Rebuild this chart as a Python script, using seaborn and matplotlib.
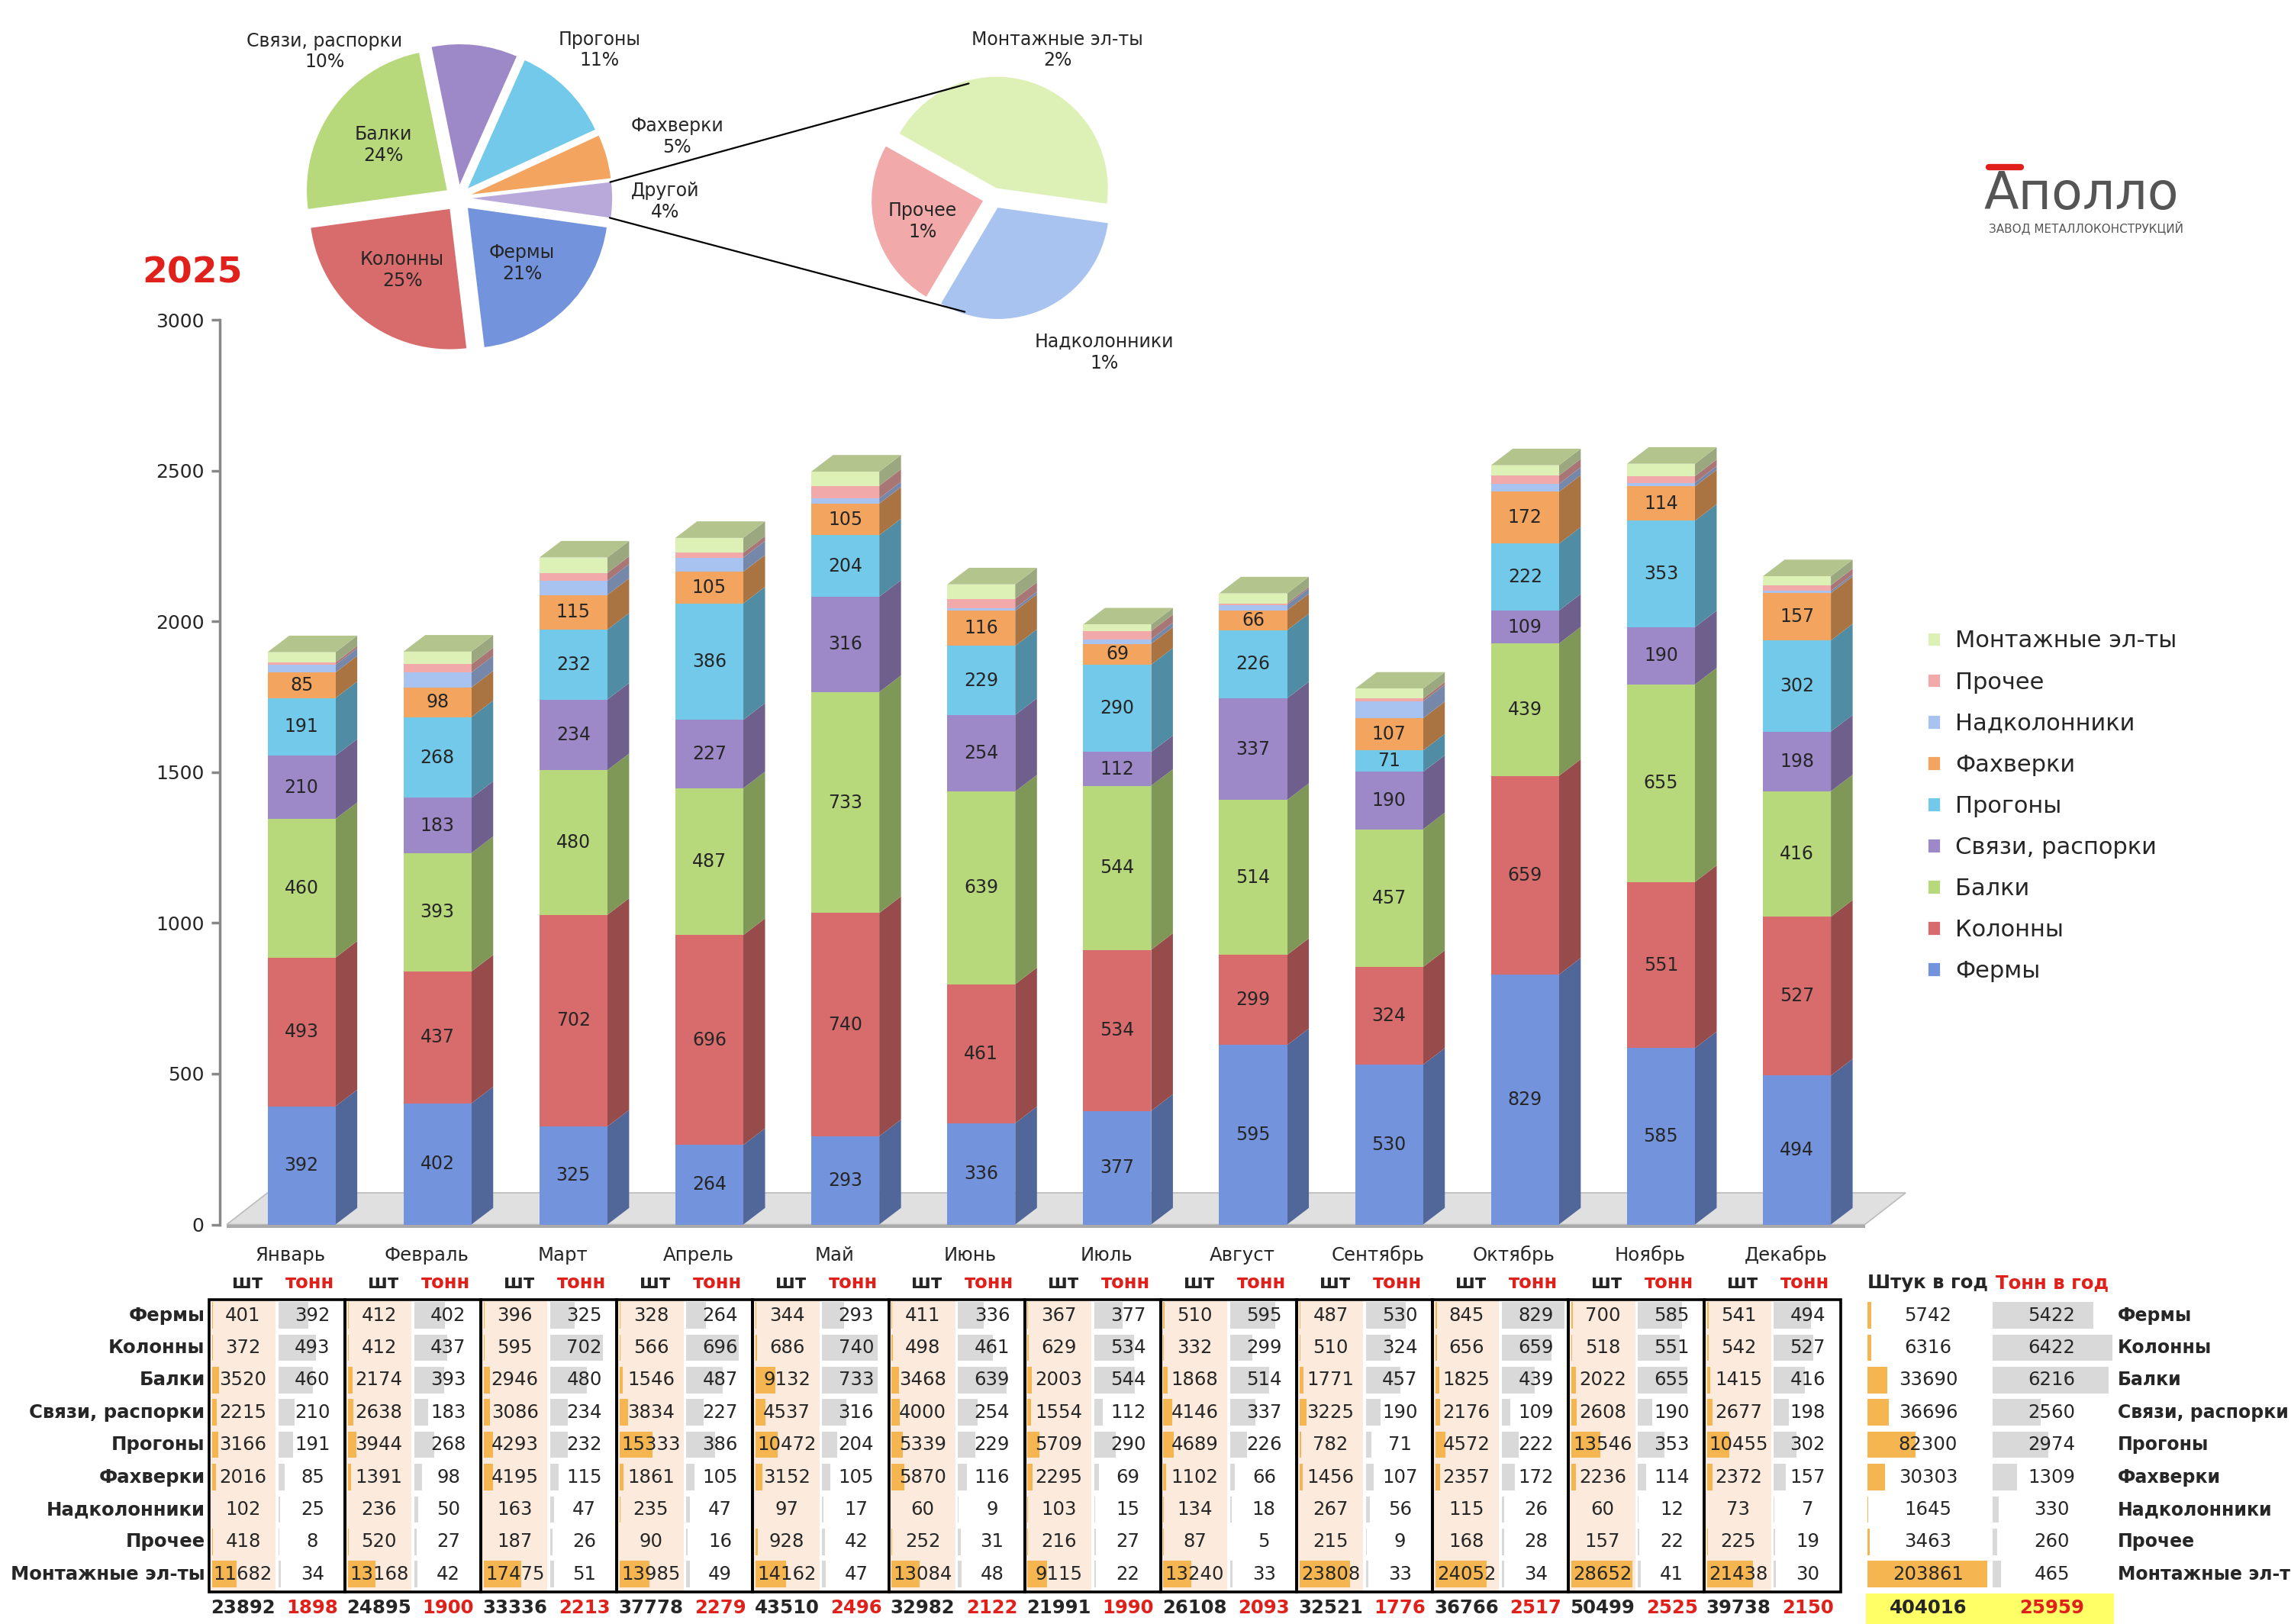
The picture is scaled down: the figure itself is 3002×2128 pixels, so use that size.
import numpy as np
import matplotlib
matplotlib.use("Agg")
import matplotlib.pyplot as plt
import seaborn as sns
from matplotlib.patches import Polygon, Rectangle, ConnectionPatch
from matplotlib.lines import Line2D

months = ["Январь","Февраль","Март","Апрель","Май","Июнь","Июль","Август","Сентябрь","Октябрь","Ноябрь","Декабрь"]
series = ["Фермы","Колонны","Балки","Связи, распорки","Прогоны","Фахверки","Надколонники","Прочее","Монтажные эл-ты"]
tons = {
 "Фермы":          [392,402,325,264,293,336,377,595,530,829,585,494],
 "Колонны":        [493,437,702,696,740,461,534,299,324,659,551,527],
 "Балки":          [460,393,480,487,733,639,544,514,457,439,655,416],
 "Связи, распорки":[210,183,234,227,316,254,112,337,190,109,190,198],
 "Прогоны":        [191,268,232,386,204,229,290,226,71,222,353,302],
 "Фахверки":       [85,98,115,105,105,116,69,66,107,172,114,157],
 "Надколонники":   [25,50,47,47,17,9,15,18,56,26,12,7],
 "Прочее":         [8,27,26,16,42,31,27,5,9,28,22,19],
 "Монтажные эл-ты":[34,42,51,49,47,48,22,33,33,34,41,30],
}
pcs = {
 "Фермы":          [401,412,396,328,344,411,367,510,487,845,700,541],
 "Колонны":        [372,412,595,566,686,498,629,332,510,656,518,542],
 "Балки":          [3520,2174,2946,1546,9132,3468,2003,1868,1771,1825,2022,1415],
 "Связи, распорки":[2215,2638,3086,3834,4537,4000,1554,4146,3225,2176,2608,2677],
 "Прогоны":        [3166,3944,4293,15333,10472,5339,5709,4689,782,4572,13546,10455],
 "Фахверки":       [2016,1391,4195,1861,3152,5870,2295,1102,1456,2357,2236,2372],
 "Надколонники":   [102,236,163,235,97,60,103,134,267,115,60,73],
 "Прочее":         [418,520,187,90,928,252,216,87,215,168,157,225],
 "Монтажные эл-ты":[11682,13168,17475,13985,14162,13084,9115,13240,23808,24052,28652,21438],
}
pcs_month_tot = [23892,24895,33336,37778,43510,32982,21991,26108,32521,36766,50499,39738]
ton_month_tot = [1898,1900,2213,2279,2496,2122,1990,2093,1776,2517,2525,2150]
pcs_year = [5742,6316,33690,36696,82300,30303,1645,3463,203861]
ton_year = [5422,6422,6216,2560,2974,1309,330,260,465]
pcs_total, ton_total = 404016, 25959
pie_labels = ["Другой","Фахверки","Прогоны","Связи, распорки","Балки","Колонны","Фермы"]
pie_vals = [1055,1309,2974,2560,6216,6422,5422]
sub_labels = ["Монтажные эл-ты","Прочее","Надколонники"]
sub_vals = [465,260,330]

colors = {"Фермы":"#7393DC","Колонны":"#D86B6B","Балки":"#B7D97C","Связи, распорки":"#9D88C8",
          "Прогоны":"#72C9EA","Фахверки":"#F3A45E","Надколонники":"#A9C3F1","Прочее":"#F1A9A9",
          "Монтажные эл-ты":"#DDF0B6"}

def darker(c, f=0.7):
    r,g,b = matplotlib.colors.to_rgb(c)
    return (r*f,g*f,b*f)

sns.set_theme(style="white")
plt.rcParams['font.family'] = ['DejaVu Sans']

fig = plt.figure(figsize=(15.01,10.64), dpi=200)
ax = fig.add_axes([0.096,0.246,0.718,0.557])
XL = (-0.6, 11.5)

vals = np.array([tons[s] for s in series])
cum = np.cumsum(vals, axis=0)
W = 0.5
for k in range(len(series)-1, -1, -1):
    sns.barplot(x=months, y=cum[k], color=colors[series[k]], width=W, ax=ax,
                saturation=1, linewidth=0, zorder=3)
dx, dy = 0.16, 55
for i in range(12):
    x1 = i + W/2
    for k in range(len(series)):
        b = cum[k-1][i] if k else 0
        t = cum[k][i]
        ax.add_patch(Polygon([(x1,b),(x1+dx,b+dy),(x1+dx,t+dy),(x1,t)],
                             closed=True, fc=darker(colors[series[k]]), ec='none', zorder=2))
        if k < 6:
            ax.text(i, (b+t)/2, str(vals[k][i]), ha='center', va='center', fontsize=8.5, zorder=5)
    t = cum[-1][i]
    ax.add_patch(Polygon([(i-W/2,t),(i-W/2+dx,t+dy),(x1+dx,t+dy),(x1,t)],
                         closed=True, fc="#B3C48C", ec='none', zorder=2))
ax.add_patch(Polygon([(XL[0]+0.05,0),(XL[0]+0.05+0.3,105),(XL[1]+0.3,105),(XL[1],0)], closed=True,
                     fc="#E0E0E0", ec="#BBBBBB", lw=0.6, zorder=1, clip_on=False))
ax.add_patch(Polygon([(XL[0]+0.05,0),(XL[1],0),(XL[1],-12),(XL[0]+0.05,-12)], closed=True,
                     fc="#AAAAAA", ec='none', zorder=1, clip_on=False))
ax.set_xlim(*XL)
ax.set_ylim(0,3000)
ax.set_yticks(range(0,3001,500))
ax.tick_params(axis='y', labelsize=9, length=4, left=True, color='#888888')
ax.set_xticks([]); ax.set_xlabel(""); ax.set_ylabel("")
for s in ['top','right','bottom']:
    ax.spines[s].set_visible(False)
ax.spines['left'].set_color('#888888')

handles = [Rectangle((0,0),1,1,fc=colors[s]) for s in series[::-1]]
fig.legend(handles, series[::-1], loc='upper left', bbox_to_anchor=(0.832,0.625), frameon=False,
           fontsize=11, labelspacing=0.82, handlelength=0.6, handleheight=0.6, handletextpad=0.6)

fig.text(0.062, 0.832, "2025", color="#E0201B", fontsize=17, fontweight='bold', ha='left', va='center')
fig.text(0.866, 0.880, "Аполло", fontsize=24, color="#555555", ha='left', va='center')
fig.text(0.868, 0.860, "ЗАВОД МЕТАЛЛОКОНСТРУКЦИЙ", fontsize=5.5, color="#555555", ha='left', va='center')
fig.add_artist(Line2D([0.868,0.882],[0.897,0.897], color="#E0201B", lw=3))

# pies
pax = fig.add_axes([0.1135,0.756,0.173,0.244])
pcols = ["#B9A9DA", colors["Фахверки"], colors["Прогоны"], colors["Связи, распорки"], colors["Балки"],
         colors["Колонны"], colors["Фермы"]]
wedges, _ = pax.pie(pie_vals, colors=pcols, startangle=-8, counterclock=True, radius=0.92,
                    explode=[0.09]*7, wedgeprops=dict(linewidth=0))
pax.set_xlim(-1.3,1.3); pax.set_ylim(-1.3,1.3); pax.set_aspect('equal')
tot = sum(pie_vals)
def ft(xp, yp, s):
    fig.text(xp/1560, 1-yp/1105, s, ha='center', va='center', fontsize=8.5)
outside = {"Связи, распорки":(221,35),"Прогоны":(408,34),"Фахверки":(461,93),"Другой":(453,137)}
for w, lab, v in zip(wedges, pie_labels, pie_vals):
    pct = f"{lab}\n{round(v/tot*100)}%"
    if lab in outside:
        ft(*outside[lab], pct)
    else:
        a = np.deg2rad((w.theta1+w.theta2)/2)
        pax.text(0.6*np.cos(a), 0.6*np.sin(a), pct, ha='center', va='center', fontsize=8.5)
sax = fig.add_axes([0.367,0.784,0.133,0.188])
swed, _ = sax.pie(sub_vals, colors=[colors[s] for s in sub_labels], startangle=-8, radius=0.95,
                  explode=[0.09]*3, wedgeprops=dict(linewidth=0))
sax.set_xlim(-1.3,1.3); sax.set_ylim(-1.3,1.3); sax.set_aspect('equal')
ft(720, 34, f"Монтажные эл-ты\n{round(465/tot*100)}%")
sax.text(-0.6, -0.2, f"Прочее\n{round(260/tot*100)}%", ha='center', va='center', fontsize=8.5)
ft(752, 240, f"Надколонники\n{round(330/tot*100)}%")
wd = wedges[0]
mid = np.deg2rad((wd.theta1+wd.theta2)/2)
for th, sa in ((wd.theta2, 102), (wd.theta1, 256)):
    c = (np.cos(mid)*0.09*0.92, np.sin(mid)*0.09*0.92)
    p1 = (c[0]+0.92*np.cos(np.deg2rad(th)), c[1]+0.92*np.sin(np.deg2rad(th)))
    p2 = (np.cos(np.deg2rad(sa))*1.0, np.sin(np.deg2rad(sa))*1.0)
    fig.add_artist(ConnectionPatch(p1, p2, "data", "data", axesA=pax, axesB=sax, color='black', lw=0.8))

# table
tax = fig.add_axes([0.096,0.0,0.718,0.237])
tax.set_xlim(*XL); tax.set_ylim(1105,843); tax.axis('off')
kw = dict(fontsize=8.8, ha='center', va='center', clip_on=False)
rows_y = [895+22*k for k in range(9)]
max_p = max(max(v) for v in pcs.values()); max_t = max(max(v) for v in tons.values())
for i, m in enumerate(months):
    xs0, xs1, xt1 = i-0.67, i-0.19, i+0.31
    tax.text(i-0.08, 854, m, **kw)
    tax.text(i-0.4, 873, "шт", fontweight='bold', **kw)
    tax.text(i+0.06, 873, "тонн", color="#E0201B", fontweight='bold', **kw)
    tax.add_patch(Rectangle((xs0,884),xs1-xs0,199, fc="#FCEBDD", ec='none', clip_on=False))
    for k, s in enumerate(series):
        y = rows_y[k]
        p = pcs[s][i]; t = tons[s][i]
        tax.add_patch(Rectangle((xs0+0.01,y-9),(xs1-xs0-0.03)*p/max_p,18, fc="#F5B651", ec='none', clip_on=False))
        tax.add_patch(Rectangle((xs1+0.02,y-9),(xt1-xs1-0.04)*t/max_t,18, fc="#D9D9D9", ec='none', clip_on=False))
        tax.text((xs0+xs1)/2, y, str(p), **kw)
        tax.text((xs1+xt1)/2+0.02, y, str(t), **kw)
    tax.add_patch(Rectangle((xs0-0.01,884),xt1-xs0+0.02,199, fc='none', ec='black', lw=1.3, clip_on=False))
    tax.text((xs0+xs1)/2, 1094, str(pcs_month_tot[i]), fontweight='bold', **kw)
    tax.text((xs1+xt1)/2+0.02, 1094, str(ton_month_tot[i]), color="#E0201B", fontweight='bold', **kw)
a0, a1, a2 = 11.51, 12.42, 13.33
tax.text((a0+a1)/2, 873, "Штук в год", fontweight='bold', **kw)
tax.text((a1+a2)/2, 873, "Тонн в год", color="#E0201B", fontweight='bold', **kw)
mp, mt = max(pcs_year), max(ton_year)
for k, s in enumerate(series):
    y = rows_y[k]
    tax.text(-0.71, y, s, fontsize=8.8, fontweight='bold', ha='right', va='center', clip_on=False)
    tax.text(a2+0.03, y, s, fontsize=8.5, fontweight='bold', ha='left', va='center', clip_on=False)
    tax.add_patch(Rectangle((a0+0.01,y-9),(a1-a0-0.03)*pcs_year[k]/mp,18, fc="#F5B651", ec='none', clip_on=False))
    tax.add_patch(Rectangle((a1+0.02,y-9),(a2-a1-0.03)*ton_year[k]/mt,18, fc="#D9D9D9", ec='none', clip_on=False))
    tax.text((a0+a1)/2, y, str(pcs_year[k]), **kw)
    tax.text((a1+a2)/2, y, str(ton_year[k]), **kw)
tax.add_patch(Rectangle((a0,1084),a2-a0,21, fc="#FFFF66", ec='none', clip_on=False))
tax.text((a0+a1)/2, 1094, str(pcs_total), fontweight='bold', **kw)
tax.text((a1+a2)/2, 1094, str(ton_total), color="#E0201B", fontweight='bold', **kw)

fig.savefig("out.png", dpi=200, facecolor='white')
